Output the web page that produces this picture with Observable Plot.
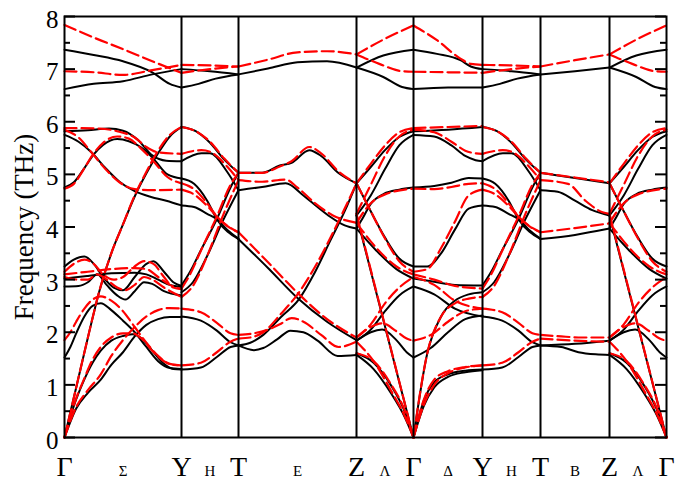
<!DOCTYPE html>
<html><head><meta charset="utf-8">
<script src="https://cdn.jsdelivr.net/npm/d3@7"></script>
<script src="https://cdn.jsdelivr.net/npm/@observablehq/plot@0.6"></script>
<style>body{margin:0;background:#fff} svg text{font-family:"Liberation Serif","DejaVu Serif",serif !important;}</style>
</head><body><div id="chart"></div>
<script>
// high-symmetry points along the path (relative path length)
const kLabels = ["Γ","Y","T","Z","Γ","Y","T","Z","Γ"];
const kPos = [0, 1.17, 1.74, 2.92, 3.49, 4.18, 4.76, 5.45, 6.02];
const midLabels = ["Σ","H","E","Λ","Δ","H","B","Λ"];
const yTicks = [0,1,2,3,4,5,6,7,8];
const yMinor = [0.5,1.5,2.5,3.5,4.5,5.5,6.5,7.5];

// Bands per segment: list of [t (fraction along segment), frequency THz]
// Γ→Y (Σ)
const gySBlack = [
 [[0,7.37],[.25,7.27],[.5,7.15],[.75,6.94],[.9,6.72],[1,6.65]],
 [[0,6.62],[.25,6.72],[.5,6.77],[.75,6.9],[1,7.0]],
 [[0,5.82],[.2,5.84],[.38,5.87],[.5,5.83],[.63,5.65],[.75,5.36],[.87,5.26],[1,5.25]],
 [[0,5.75],[.12,5.62],[.23,5.42],[.35,5.12],[.47,4.86],[.6,4.68],[.74,4.57],[.87,4.5],[1,4.41]],
 [[0,4.75],[.08,4.85],[.17,5.12],[.25,5.38],[.33,5.56],[.45,5.67],[.55,5.63],[.65,5.52],[.76,5.3],[.88,5.0],[1,4.92]],
 [[0,0],[.1,0.95],[.2,1.9],[.3,2.8],[.4,3.5],[.5,4.05],[.6,4.58],[.7,5.02],[.8,5.4],[.9,5.72],[1,5.9]],
 [[0,1.52],[.05,1.72],[.1,1.98],[.17,2.3],[.24,2.5],[.31,2.55],[.4,2.42],[.5,2.22],[.6,2.0],[.7,1.72],[.8,1.45],[.9,1.32],[1,1.3]],
 [[0,0],[.08,0.6],[.165,1.08],[.24,1.42],[.31,1.65],[.4,1.84],[.5,1.93],[.58,1.96],[.66,1.88],[.75,1.65],[.85,1.4],[.93,1.3],[1,1.29]],
 [[0,0],[.1,0.55],[.2,0.85],[.31,1.1],[.4,1.38],[.5,1.62],[.6,1.92],[.7,2.14],[.8,2.25],[.9,2.29],[1,2.29]],
 [[0,2.87],[.12,2.88],[.2,2.95],[.28,3.1],[.36,2.9],[.45,2.7],[.52,2.62],[.6,2.78],[.68,2.95],[.75,2.92],[.85,2.78],[1,2.7]],
 [[0,3.02],[.2,3.07],[.4,3.12],[.6,3.13],[.7,3.1],[.8,3.0],[.9,2.9],[1,2.86]],
 [[0,3.25],[.08,3.38],[.17,3.44],[.25,3.3],[.33,3.05],[.42,2.85],[.5,2.8],[.6,3.05],[.7,3.3],[.76,3.35],[.85,3.15],[.93,2.95],[1,2.88]]
];
const gySRed = [
 [[0,7.84],[.25,7.6],[.5,7.38],[.75,7.15],[1,6.93]],
 [[0,6.96],[.25,6.94],[.5,6.89],[.75,6.98],[1,7.08]],
 [[0,5.88],[.3,5.87],[.45,5.82],[.6,5.7],[.7,5.52],[.8,5.42],[1,5.39]],
 [[0,5.85],[.12,5.7],[.23,5.42],[.35,5.1],[.47,4.85],[.6,4.72],[.75,4.7],[1,4.71]],
 [[0,4.73],[.08,4.82],[.17,5.12],[.25,5.4],[.33,5.6],[.45,5.72],[.55,5.68],[.65,5.5],[.76,5.25],[.88,4.95],[1,4.83]],
 [[0,0],[.1,0.95],[.2,1.9],[.3,2.8],[.4,3.5],[.5,4.05],[.6,4.6],[.7,5.05],[.8,5.45],[.9,5.75],[1,5.9]],
 [[0,1.85],[.05,2.0],[.1,2.2],[.17,2.45],[.24,2.62],[.31,2.68],[.4,2.6],[.5,2.4],[.6,2.1],[.7,1.8],[.8,1.55],[.9,1.4],[1,1.37]],
 [[0,0],[.08,0.62],[.165,1.1],[.24,1.48],[.31,1.72],[.4,1.9],[.5,1.98],[.58,1.98],[.66,1.88],[.75,1.65],[.85,1.45],[.93,1.38],[1,1.37]],
 [[0,0],[.1,0.58],[.2,0.9],[.31,1.2],[.4,1.55],[.5,1.85],[.6,2.1],[.7,2.3],[.8,2.42],[.9,2.46],[1,2.45]],
 [[0,3.05],[.12,3.0],[.2,3.0],[.28,3.1],[.36,3.0],[.45,2.85],[.52,2.8],[.6,2.9],[.68,3.05],[.75,3.0],[.85,2.85],[1,2.67]],
 [[0,3.1],[.2,3.15],[.4,3.2],[.6,3.22],[.7,3.2],[.8,3.05],[.9,2.9],[1,2.82]],
 [[0,3.15],[.08,3.3],[.17,3.38],[.25,3.3],[.33,3.1],[.42,3.0],[.5,3.05],[.6,3.25],[.68,3.35],[.76,3.3],[.85,3.05],[.93,2.85],[1,2.82]]
];
// Y→T (H)
const ytBlack = [
 [[0,6.65],[.3,6.72],[.6,6.82],[1,6.9]],
 [[0,7.0],[.5,6.96],[1,6.9]],
 [[0,5.9],[.25,5.82],[.5,5.6],[.75,5.28],[1,5.03]],
 [[0,5.25],[.35,5.4],[.5,5.4],[.8,5.05],[1,4.7]],
 [[0,4.92],[.22,4.82],[.45,4.5],[.62,4.15],[1,3.77]],
 [[0,4.41],[.22,4.38],[.45,4.25],[.62,4.15],[.8,3.95],[1,3.78]],
 [[0,2.89],[.15,3.15],[.34,3.56],[.62,4.15],[.86,4.75],[1,5.03]],
 [[0,2.76],[.2,2.95],[.45,3.45],[.74,4.15],[1,4.7]],
 [[0,2.3],[.34,2.22],[.62,2.03],[.86,1.81],[1,1.75]],
 [[0,1.29],[.34,1.33],[.62,1.53],[.86,1.72],[1,1.75]]
];
const ytRed = [
 [[0,6.93],[.5,7.0],[1,7.05]],
 [[0,7.08],[.5,7.07],[1,7.05]],
 [[0,5.9],[.25,5.82],[.5,5.62],[.75,5.3],[1,5.03]],
 [[0,5.39],[.35,5.46],[.5,5.43],[.8,5.15],[1,4.89]],
 [[0,4.83],[.22,4.72],[.45,4.45],[.62,4.2],[1,3.9]],
 [[0,4.71],[.22,4.62],[.45,4.4],[.62,4.2],[.8,4.02],[1,3.9]],
 [[0,2.83],[.15,3.1],[.34,3.55],[.62,4.2],[.86,4.8],[1,5.03]],
 [[0,2.67],[.2,2.88],[.45,3.45],[.74,4.25],[1,4.89]],
 [[0,2.45],[.34,2.38],[.62,2.18],[.86,1.98],[1,1.95]],
 [[0,1.37],[.34,1.42],[.62,1.62],[.86,1.82],[1,1.88]]
];
// T→Z (E)
const tzEBlack = [
 [[0,6.9],[.25,7.01],[.5,7.13],[.75,7.15],[1,7.03]],
 [[0,5.03],[.2,5.03],[.35,5.17],[.45,5.22],[.6,5.46],[.7,5.35],[.85,5.02],[1,4.83]],
 [[0,4.7],[.2,4.76],[.4,4.83],[.55,4.6],[.67,4.38],[.78,4.19],[.9,4.03],[1,3.97]],
 [[0,3.77],[.25,3.22],[.5,2.65],[.75,2.2],[1,1.85]],
 [[0,1.75],[.1,1.8],[.21,1.95],[.36,2.29],[.51,2.62],[.65,3.15],[.78,3.75],[.9,4.3],[1,4.83]],
 [[0,1.75],[.13,1.66],[.21,1.7],[.33,1.87],[.44,2.03],[.55,2.0],[.67,1.84],[.84,1.55],[1,1.57]]
];
const tzERed = [
 [[0,7.05],[.25,7.18],[.5,7.32],[.75,7.34],[1,7.28]],
 [[0,5.03],[.2,5.03],[.35,5.15],[.45,5.25],[.6,5.52],[.7,5.4],[.85,5.05],[1,4.83]],
 [[0,4.89],[.2,4.86],[.4,4.9],[.5,4.75],[.65,4.45],[.8,4.22],[1,4.08]],
 [[0,3.9],[.25,3.33],[.5,2.75],[.75,2.25],[1,1.9]],
 [[0,1.88],[.1,1.9],[.21,2.0],[.36,2.35],[.51,2.75],[.65,3.25],[.78,3.8],[.9,4.35],[1,4.83]],
 [[0,1.95],[.13,1.98],[.25,2.05],[.35,2.15],[.45,2.27],[.55,2.2],[.7,1.95],[.85,1.72],[1,1.82]]
];
// Z→Γ (Λ)
const zgBlack = [
 [[0,7.03],[.47,7.26],[1,7.37]],
 [[0,7.03],[.47,6.85],[.8,6.66],[1,6.62]],
 [[0,4.83],[.25,5.14],[.5,5.46],[.75,5.71],[1,5.82]],
 [[0,4.22],[.25,4.6],[.5,5.1],[.75,5.55],[1,5.75]],
 [[0,3.97],[.1,4.15],[.25,4.44],[.48,4.63],[.75,4.71],[1,4.75]],
 [[0,4.83],[.25,4.3],[.5,3.8],[.75,3.4],[1,3.25]],
 [[0,3.97],[.35,3.55],[.7,3.2],[1,3.02]],
 [[0,4.22],[1,0]],
 [[0,1.84],[.25,2.05],[.5,2.4],[.75,2.7],[1,2.87]],
 [[0,1.84],[.25,2.0],[.45,2.05],[.7,1.85],[.88,1.62],[1,1.52]],
 [[0,1.57],[.3,1.3],[.6,0.85],[.85,0.38],[1,0]],
 [[0,1.6],[.3,1.42],[.6,1.0],[.85,0.48],[1,0]]
];
const zgRed = [
 [[0,7.28],[.47,7.56],[1,7.83]],
 [[0,7.28],[.4,7.1],[.8,6.96],[1,6.95]],
 [[0,4.83],[.25,5.2],[.5,5.55],[.75,5.8],[1,5.88]],
 [[0,4.25],[.25,4.8],[.5,5.35],[.75,5.72],[1,5.85]],
 [[0,4.08],[.25,4.45],[.5,4.62],[1,4.73]],
 [[0,4.83],[.25,4.3],[.5,3.78],[.75,3.35],[1,3.15]],
 [[0,4.08],[.35,3.6],[.7,3.25],[1,3.1]],
 [[0,4.25],[1,0]],
 [[0,1.9],[.25,2.15],[.5,2.55],[.75,2.85],[1,3.05]],
 [[0,1.9],[.25,2.1],[.45,2.17],[.7,2.02],[.88,1.88],[1,1.84]],
 [[0,1.82],[.3,1.45],[.6,0.9],[.85,0.4],[1,0]],
 [[0,1.6],[.3,1.45],[.6,1.02],[.85,0.5],[1,0]]
];
// Γ→Y (Δ)
const gyDBlack = [
 [[0,7.37],[.34,7.29],[.68,7.17],[.83,7.05],[1,7.0]],
 [[0,6.62],[.5,6.65],[1,6.65]],
 [[0,5.82],[.5,5.85],[1,5.9]],
 [[0,5.75],[.3,5.72],[.55,5.55],[.75,5.35],[.9,5.27],[1,5.25]],
 [[0,4.75],[.3,4.78],[.55,4.84],[.8,4.93],[1,4.92]],
 [[0,3.25],[.2,3.25],[.4,3.5],[.6,3.95],[.8,4.35],[1,4.41]],
 [[0,3.02],[.3,2.96],[.6,2.9],[1,2.89]],
 [[0,0],[.2,1.6],[.4,2.3],[.6,2.6],[.8,2.72],[1,2.76]],
 [[0,1.52],[.25,1.7],[.5,2.0],[.75,2.25],[1,2.32]],
 [[0,2.87],[.3,2.72],[.6,2.45],[1,2.3]],
 [[0,0],[.15,0.6],[.3,0.95],[.5,1.15],[.75,1.24],[1,1.28]],
 [[0,0],[.15,0.7],[.3,1.05],[.5,1.2],[.75,1.27],[1,1.29]]
];
const gyDRed = [
 [[0,7.83],[.34,7.55],[.68,7.2],[.83,7.1],[1,7.08]],
 [[0,6.95],[.5,6.94],[1,6.93]],
 [[0,5.88],[.5,5.9],[1,5.92]],
 [[0,5.85],[.3,5.8],[.55,5.62],[.75,5.45],[.9,5.4],[1,5.39]],
 [[0,4.73],[.3,4.72],[.55,4.76],[.8,4.82],[1,4.83]],
 [[0,3.15],[.2,3.2],[.4,3.6],[.6,4.1],[.8,4.6],[1,4.71]],
 [[0,3.1],[.3,3.0],[.6,2.88],[1,2.83]],
 [[0,0],[.2,1.6],[.4,2.3],[.6,2.55],[.8,2.64],[1,2.67]],
 [[0,1.84],[.25,1.95],[.5,2.2],[.75,2.4],[1,2.45]],
 [[0,3.05],[.3,2.9],[.6,2.6],[1,2.45]],
 [[0,0],[.15,0.62],[.3,1.0],[.5,1.22],[.75,1.33],[1,1.37]],
 [[0,0],[.15,0.72],[.3,1.1],[.5,1.26],[.75,1.34],[1,1.37]]
];
// T→Z (B)
const tzBBlack = [
 [[0,6.9],[.5,6.96],[1,7.03]],
 [[0,5.03],[.5,4.93],[1,4.83]],
 [[0,4.7],[.25,4.67],[.5,4.5],[.75,4.32],[1,4.22]],
 [[0,3.77],[.5,3.85],[1,3.97]],
 [[0,1.75],[.3,1.72],[.55,1.62],[.8,1.58],[1,1.57]],
 [[0,1.75],[.5,1.78],[1,1.84]]
];
const tzBRed = [
 [[0,7.05],[.5,7.17],[1,7.28]],
 [[0,5.03],[.5,4.94],[1,4.85]],
 [[0,4.89],[.4,4.82],[.65,4.5],[.9,4.28],[1,4.25]],
 [[0,3.9],[.5,3.98],[1,4.07]],
 [[0,1.95],[.3,1.92],[.6,1.9],[1,1.9]],
 [[0,1.88],[.5,1.84],[1,1.82]]
];

const segments = [
 [gySBlack, gySRed], [ytBlack, ytRed], [tzEBlack, tzERed], [zgBlack, zgRed],
 [gyDBlack, gyDRed], [ytBlack, ytRed], [tzBBlack, tzBRed], [zgBlack, zgRed]
];

const rows = [];
segments.forEach(([blk, red], si) => {
  const k0 = kPos[si], k1 = kPos[si + 1];
  [["black", blk], ["red", red]].forEach(([series, bands]) => {
    bands.forEach((band, bi) => {
      band.forEach(([t, f]) => rows.push({k: k0 + t * (k1 - k0), f, series, id: `${si}-${series}-${bi}`}));
    });
  });
});

const font = "Liberation Serif";
const chart = Plot.plot({
  width: 689, height: 482,
  marginLeft: 64, marginRight: 23, marginTop: 16, marginBottom: 45,
  x: {domain: [0, kPos[kPos.length - 1]], axis: null},
  y: {domain: [0, 8], axis: null},
  style: {fontFamily: font, background: "white", color: "black"},
  marks: [
    Plot.line(rows.filter(d => d.series === "black"), {x: "k", y: "f", z: "id", stroke: "black", strokeWidth: 2, curve: "monotone-x"}),
    Plot.line(rows.filter(d => d.series === "red"), {x: "k", y: "f", z: "id", stroke: "#ff0000", strokeWidth: 2.2, strokeDasharray: "12,5", curve: "monotone-x"}),
    Plot.ruleX(kPos.slice(1, -1), {stroke: "black", strokeWidth: 2}),
    Plot.tickY(yTicks, {y: d => d, insetRight: 591, stroke: "black", strokeWidth: 2}),
    Plot.tickY(yTicks, {y: d => d, insetLeft: 591, stroke: "black", strokeWidth: 2}),
    Plot.tickY(yMinor, {y: d => d, insetRight: 596, stroke: "black", strokeWidth: 2}),
    Plot.tickY(yMinor, {y: d => d, insetLeft: 596, stroke: "black", strokeWidth: 2}),
    Plot.frame({stroke: "black", strokeWidth: 2}),
    Plot.text(yTicks, {x: 0, y: d => d, text: d => String(d), textAnchor: "end", dx: -6, dy: 3, fontSize: 25, fontFamily: font, fill: "black"}),
    Plot.text(kLabels, {x: (d, i) => kPos[i], text: d => d, frameAnchor: "bottom", lineAnchor: "bottom", dy: 38, fontSize: 28, fontFamily: font, fill: "black"}),
    Plot.text(midLabels, {x: (d, i) => (kPos[i] + kPos[i + 1]) / 2, text: d => d, frameAnchor: "bottom", lineAnchor: "bottom", dy: 38, fontSize: 15, fontFamily: font, fill: "black"}),
    Plot.text(["Frequency (THz)"], {frameAnchor: "left", textAnchor: "middle", lineAnchor: "middle", rotate: -90, dx: -40, fontSize: 27, fontFamily: font, fill: "black"})
  ]
});
document.getElementById("chart").appendChild(chart);
</script>
</body></html>
